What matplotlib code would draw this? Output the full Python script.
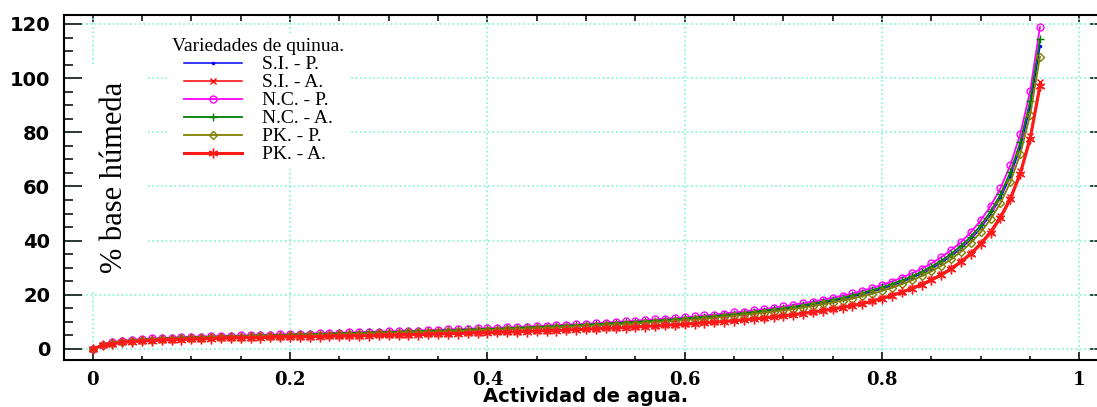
import numpy as np
import matplotlib
matplotlib.use('Agg')
from matplotlib import pyplot as plt
from matplotlib.ticker import MultipleLocator, NullFormatter, NullLocator, FuncFormatter

# actividad de agua: 0.00 ... 0.96 en pasos de 0.01
aw = np.arange(97) / 100.

# % base humeda
si_p = [0, 1.5, 2.3, 2.8, 3.1, 3.4, 3.6, 3.8, 4.0, 4.1,
        4.2, 4.3, 4.4, 4.5, 4.6, 4.7, 4.8, 4.9, 5.0, 5.1,
        5.2, 5.3, 5.4, 5.4, 5.5, 5.6, 5.7, 5.8, 5.9, 6.0,
        6.1, 6.2, 6.3, 6.4, 6.5, 6.6, 6.7, 6.9, 7.0, 7.1,
        7.2, 7.4, 7.5, 7.6, 7.8, 7.9, 8.1, 8.2, 8.4, 8.6,
        8.8, 8.9, 9.1, 9.3, 9.6, 9.8, 10.0, 10.2, 10.5, 10.8,
        11.0, 11.3, 11.6, 11.9, 12.3, 12.6, 13.0, 13.4, 13.8, 14.3,
        14.8, 15.3, 15.8, 16.4, 17.1, 17.7, 18.5, 19.3, 20.2, 21.2,
        22.2, 23.4, 24.7, 26.2, 27.8, 29.7, 31.8, 34.3, 37.1, 40.5,
        44.6, 49.6, 55.8, 63.7, 74.4, 89.3, 111.7]
si_a = [0, 1.3, 2.0, 2.5, 2.8, 3.0, 3.2, 3.3, 3.5, 3.6,
        3.7, 3.8, 3.9, 4.0, 4.1, 4.2, 4.2, 4.3, 4.4, 4.4,
        4.5, 4.5, 4.6, 4.7, 4.7, 4.8, 4.8, 4.9, 5.0, 5.0,
        5.1, 5.2, 5.3, 5.4, 5.5, 5.6, 5.7, 5.8, 5.9, 6.0,
        6.1, 6.2, 6.3, 6.4, 6.5, 6.7, 6.8, 6.9, 7.1, 7.2,
        7.4, 7.5, 7.7, 7.8, 8.0, 8.2, 8.4, 8.6, 8.8, 9.0,
        9.3, 9.5, 9.8, 10.0, 10.3, 10.6, 10.9, 11.3, 11.6, 12.0,
        12.4, 12.8, 13.3, 13.8, 14.3, 14.9, 15.5, 16.2, 17.0, 17.9,
        18.9, 20.0, 21.2, 22.6, 24.1, 25.8, 27.7, 30.0, 32.6, 35.6,
        39.3, 43.7, 49.2, 56.2, 65.6, 78.7, 98.4]
nc_p = [0, 1.6, 2.5, 3.0, 3.4, 3.6, 3.9, 4.0, 4.2, 4.4,
        4.5, 4.6, 4.7, 4.8, 4.9, 5.0, 5.1, 5.2, 5.3, 5.4,
        5.5, 5.6, 5.7, 5.8, 5.9, 6.0, 6.1, 6.2, 6.3, 6.4,
        6.5, 6.6, 6.7, 6.8, 6.9, 7.1, 7.2, 7.3, 7.4, 7.6,
        7.7, 7.8, 8.0, 8.1, 8.3, 8.4, 8.6, 8.8, 9.0, 9.1,
        9.3, 9.5, 9.7, 10.0, 10.2, 10.4, 10.7, 10.9, 11.2, 11.4,
        11.7, 12.0, 12.4, 12.7, 13.1, 13.5, 13.8, 14.3, 14.7, 15.2,
        15.7, 16.3, 16.9, 17.5, 18.2, 18.9, 19.7, 20.5, 21.5, 22.5,
        23.7, 24.9, 26.3, 27.9, 29.6, 31.6, 33.9, 36.5, 39.5, 43.1,
        47.5, 52.8, 59.4, 67.9, 79.3, 95.1, 118.9]
nc_a = [0, 1.6, 2.4, 2.9, 3.2, 3.5, 3.7, 3.9, 4.0, 4.2,
        4.3, 4.4, 4.5, 4.6, 4.7, 4.8, 4.9, 5.0, 5.1, 5.2,
        5.3, 5.4, 5.5, 5.6, 5.7, 5.8, 5.9, 6.0, 6.1, 6.2,
        6.2, 6.4, 6.5, 6.6, 6.7, 6.8, 6.9, 7.0, 7.2, 7.3,
        7.4, 7.5, 7.7, 7.8, 8.0, 8.1, 8.3, 8.5, 8.6, 8.8,
        9.0, 9.2, 9.4, 9.6, 9.8, 10.0, 10.3, 10.5, 10.7, 11.0,
        11.3, 11.6, 11.9, 12.2, 12.6, 12.9, 13.3, 13.7, 14.2, 14.6,
        15.1, 15.6, 16.2, 16.8, 17.5, 18.2, 18.9, 19.8, 20.7, 21.7,
        22.8, 24.0, 25.3, 26.8, 28.5, 30.4, 32.6, 35.1, 38.1, 41.5,
        45.7, 50.8, 57.1, 65.3, 76.3, 91.5, 114.4]
pk_p = [0, 1.5, 2.2, 2.7, 3.0, 3.3, 3.5, 3.7, 3.8, 3.9,
        4.1, 4.2, 4.3, 4.4, 4.5, 4.6, 4.7, 4.7, 4.8, 4.9,
        5.0, 5.1, 5.2, 5.3, 5.3, 5.4, 5.5, 5.6, 5.7, 5.8,
        5.9, 6.0, 6.1, 6.2, 6.3, 6.4, 6.5, 6.6, 6.7, 6.9,
        7.0, 7.1, 7.2, 7.4, 7.5, 7.7, 7.8, 8.0, 8.1, 8.3,
        8.5, 8.6, 8.8, 9.0, 9.2, 9.4, 9.7, 9.9, 10.1, 10.4,
        10.7, 10.9, 11.2, 11.5, 11.9, 12.2, 12.6, 13.0, 13.4, 13.8,
        14.3, 14.8, 15.3, 15.9, 16.5, 17.1, 17.9, 18.6, 19.5, 20.4,
        21.5, 22.6, 23.9, 25.3, 26.9, 28.7, 30.7, 33.1, 35.9, 39.2,
        43.1, 47.9, 53.9, 61.6, 71.9, 86.3, 107.9]
pk_a = [0, 1.3, 1.9, 2.4, 2.7, 2.9, 3.1, 3.3, 3.4, 3.5,
        3.6, 3.7, 3.8, 3.9, 4.0, 4.1, 4.2, 4.2, 4.3, 4.4,
        4.4, 4.5, 4.5, 4.6, 4.7, 4.7, 4.8, 4.8, 4.9, 5.0,
        5.0, 5.1, 5.2, 5.3, 5.4, 5.5, 5.6, 5.7, 5.8, 5.9,
        6.0, 6.1, 6.2, 6.3, 6.4, 6.6, 6.7, 6.8, 7.0, 7.1,
        7.3, 7.4, 7.6, 7.7, 7.9, 8.1, 8.3, 8.5, 8.7, 8.9,
        9.1, 9.4, 9.6, 9.9, 10.1, 10.4, 10.7, 11.1, 11.4, 11.8,
        12.2, 12.6, 13.1, 13.6, 14.1, 14.7, 15.3, 16.0, 16.7, 17.6,
        18.6, 19.7, 20.9, 22.3, 23.7, 25.4, 27.3, 29.5, 32.1, 35.1,
        38.7, 43.0, 48.4, 55.3, 64.6, 77.5, 97.0]

series = [
    ('S.I. - P.', si_p, dict(color='#0000ff', marker='.', ms=3, lw=1.1)),
    ('S.I. - A.', si_a, dict(color='#ff0000', marker='x', ms=5, mew=1.0, lw=1.1)),
    ('N.C. - P.', nc_p, dict(color='#ff00ff', marker='o', ms=5, mfc='none', mew=1.0, lw=1.3)),
    ('N.C. - A.', nc_a, dict(color='#008000', marker='+', ms=6, mew=1.0, lw=1.3)),
    ('PK. - P.', pk_p, dict(color='#808000', marker='D', ms=4.5, mfc='none', mew=1.0, lw=1.3)),
    ('PK. - A.', pk_a, dict(color='#ff1a1a', marker=(6, 2, 0), ms=7, mew=1.0, lw=2.2)),
]
for name, yy, st in series:
    assert len(yy) == len(aw), name

fig = plt.figure(figsize=(10.97, 4.07), dpi=100)
ax = fig.add_axes([0.0583, 0.1155, 0.9417, 0.8476])

for name, yy, st in series:
    ax.plot(aw, yy, label=name, **st)

ax.set_xlim(-0.0291, 1.0178)
ax.set_ylim(-4.06, 123.3)

ax.xaxis.set_major_locator(MultipleLocator(0.2))
ax.xaxis.set_minor_locator(MultipleLocator(0.05))
ax.yaxis.set_major_locator(MultipleLocator(20))
ax.yaxis.set_minor_locator(MultipleLocator(5))
ax.xaxis.set_major_formatter(FuncFormatter(lambda v, p: '{:g}'.format(round(v, 2))))

ax.set_axisbelow(True)
ax.grid(False, which='minor')
ax.xaxis.grid(True, which='major', color='#7ff5d2', linestyle=':', linewidth=1.2)
ax.yaxis.grid(True, which='major', color='#7ff5d2', linestyle=':', linewidth=1.2)

for s in ['left', 'top', 'bottom']:
    ax.spines[s].set_linewidth(1.5)
ax.spines['right'].set_visible(False)

ax.tick_params(axis='y', which='major', direction='in', length=13, width=1.1, pad=10)
ax.tick_params(axis='y', which='minor', direction='in', length=6.5, width=1.1)
ax.tick_params(axis='x', which='major', direction='in', length=5.8, width=1.1, pad=8)
ax.tick_params(axis='x', which='minor', direction='in', length=3, width=1.1)

for lab in ax.get_yticklabels():
    lab.set_fontfamily('DejaVu Sans')
    lab.set_fontweight('bold')
    lab.set_fontsize(14)
for lab in ax.get_xticklabels():
    lab.set_fontfamily('DejaVu Serif')
    lab.set_fontweight('bold')
    lab.set_fontsize(13)

# ticks arriba y a la derecha
top = ax.secondary_xaxis('top')
top.xaxis.set_major_locator(MultipleLocator(0.2))
top.xaxis.set_minor_locator(MultipleLocator(0.05))
top.xaxis.set_major_formatter(NullFormatter())
top.tick_params(which='major', direction='in', length=5, width=1.1)
top.tick_params(which='minor', direction='in', length=4, width=1.1)
top.spines['top'].set_visible(False)
top.grid(False)

right = ax.secondary_yaxis('right')
right.yaxis.set_major_locator(MultipleLocator(20))
right.yaxis.set_minor_locator(NullLocator())
right.yaxis.set_major_formatter(NullFormatter())
right.tick_params(which='major', direction='in', length=5, width=1.1)
right.spines['right'].set_visible(False)
right.grid(False)

ax.set_xlabel('Actividad de agua.', fontfamily='DejaVu Sans', fontweight='bold', fontsize=14)
ax.xaxis.set_label_coords(0.505, -0.1217)
ax.xaxis.label.set_verticalalignment('baseline')

ax.text(0.0494, 0.529, '% base húmeda', transform=ax.transAxes, rotation=90,
        ha='center', va='center', fontfamily='Liberation Serif', fontsize=22,
        bbox=dict(boxstyle='square,pad=0.6', facecolor='white', edgecolor='none'))

leg = ax.legend(title='Variedades de quinua.', loc='upper left',
                bbox_to_anchor=(0.0997, 0.948), borderaxespad=0,
                prop={'family': 'Liberation Serif', 'size': 14},
                title_fontproperties={'family': 'Liberation Serif', 'size': 14},
                frameon=True, fancybox=False, framealpha=1, edgecolor='none',
                handlelength=3.0, handletextpad=1.0, labelspacing=0.02,
                borderpad=0.28)

fig.savefig('out.png', dpi=100)
plt.close(fig)
